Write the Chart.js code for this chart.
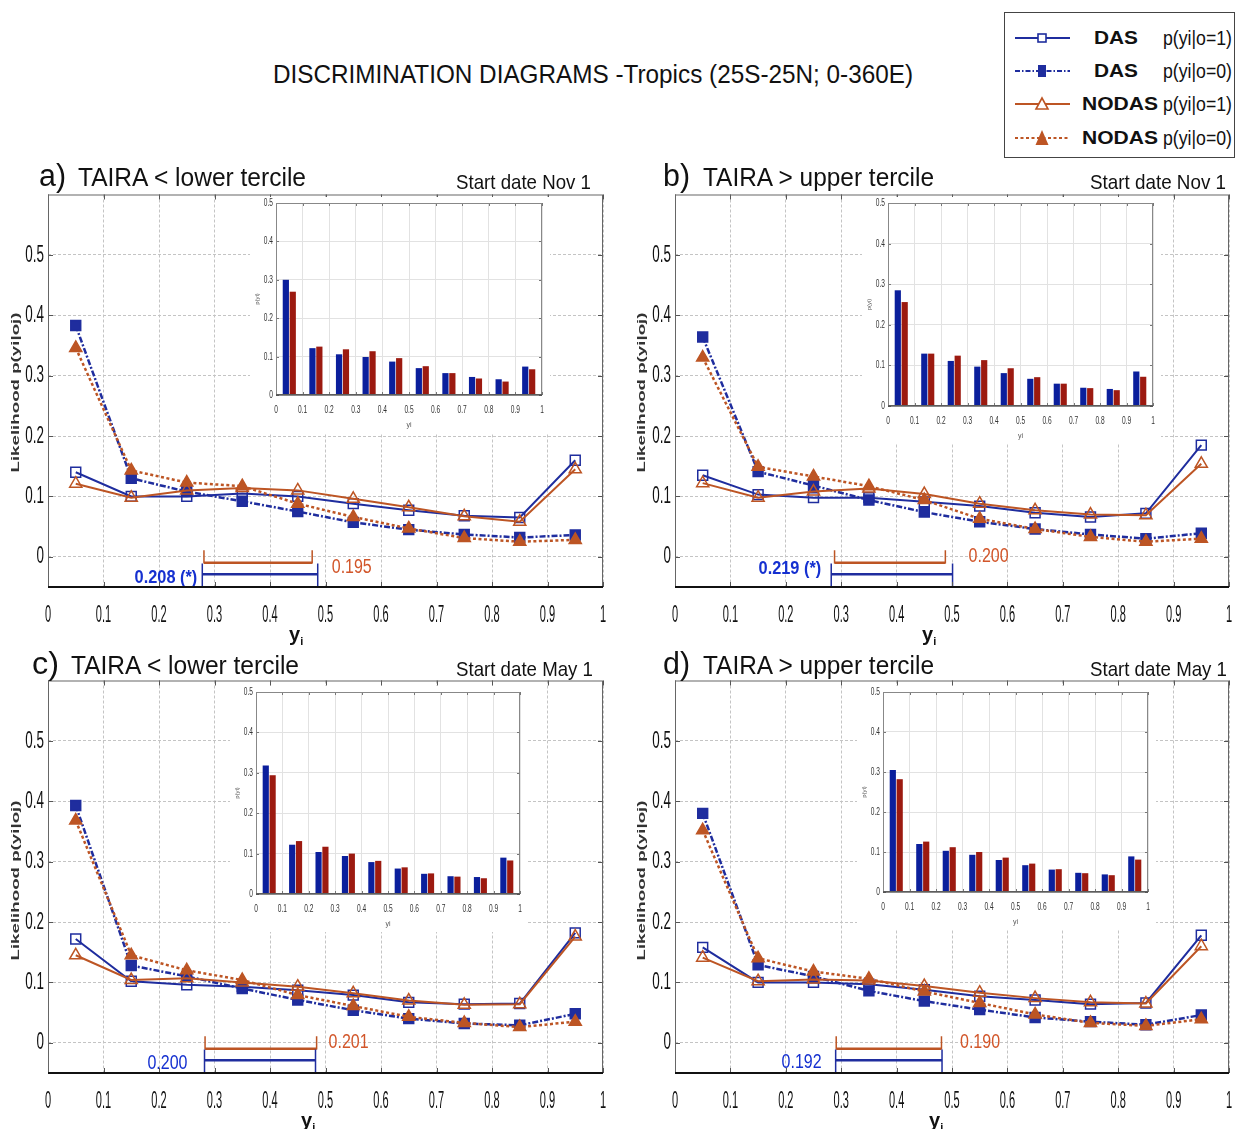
<!DOCTYPE html>
<html>
<head>
<meta charset="utf-8">
<title>Discrimination diagrams - Tropics</title>
<script src="https://cdn.jsdelivr.net/npm/chart.js@4.4.1/dist/chart.umd.min.js"></script>
<style>
  html, body { margin: 0; padding: 0; background: #fff; }
  #fig { position: relative; width: 1237px; height: 1129px; overflow: hidden; background: #fff;
         font-family: "Liberation Sans", Arial, sans-serif; color: #111; }
  #fig canvas { position: absolute; }
  .txt { position: absolute; white-space: nowrap; transform-origin: 0 50%; }
  .legend { position: absolute; left: 1004px; top: 12px; width: 231px; height: 146px;
            border: 1px solid #444; box-sizing: border-box; background: #fff; }
  .sym { position: absolute; }
</style>
</head>
<body>
<div id="fig"></div>
<script>
// --- data ---
const binCenters = [0.05, 0.15, 0.25, 0.35, 0.45, 0.55, 0.65, 0.75, 0.85, 0.95];
const xTicks = [0, 0.1, 0.2, 0.3, 0.4, 0.5, 0.6, 0.7, 0.8, 0.9, 1];
const yTicks = [0, 0.1, 0.2, 0.3, 0.4, 0.5];

const mainTitle = 'DISCRIMINATION DIAGRAMS -Tropics (25S-25N; 0-360E)';
const panelLetters = ['a)', 'b)', 'c)', 'd)'];
const panelTitles = ['TAIRA < lower tercile', 'TAIRA > upper tercile', 'TAIRA < lower tercile', 'TAIRA > upper tercile'];
const startDates = ['Start date Nov 1', 'Start date Nov 1', 'Start date May 1', 'Start date May 1'];
const legendNames = ['DAS', 'DAS', 'NODAS', 'NODAS'];
const legendConds = ['p(yi|o=1)', 'p(yi|o=0)', 'p(yi|o=1)', 'p(yi|o=0)'];
const yTitle = 'Likelihood p(yi|oj)';

// a) Nov 1, lower tercile
const aDas1   = [0.140, 0.100, 0.100, 0.105, 0.100, 0.088, 0.077, 0.068, 0.065, 0.160];
const aDas0   = [0.383, 0.130, 0.108, 0.092, 0.075, 0.057, 0.045, 0.037, 0.032, 0.036];
const aNodas1 = [0.121, 0.098, 0.110, 0.114, 0.110, 0.096, 0.082, 0.067, 0.058, 0.145];
const aNodas0 = [0.346, 0.143, 0.123, 0.117, 0.088, 0.066, 0.047, 0.031, 0.025, 0.028];
const aHistDas   = [0.300, 0.122, 0.106, 0.099, 0.087, 0.070, 0.057, 0.047, 0.041, 0.074];
const aHistNodas = [0.269, 0.126, 0.119, 0.114, 0.096, 0.075, 0.057, 0.043, 0.035, 0.067];
const aRangeDas = [0.278, 0.486], aRangeNodas = [0.281, 0.476];
const aScoreDas = '0.208 (*)', aScoreNodas = '0.195';

// b) Nov 1, upper tercile
const bDas1   = [0.135, 0.103, 0.098, 0.098, 0.091, 0.084, 0.073, 0.066, 0.072, 0.185];
const bDas0   = [0.364, 0.141, 0.118, 0.094, 0.074, 0.058, 0.046, 0.037, 0.030, 0.039];
const bNodas1 = [0.122, 0.098, 0.108, 0.113, 0.104, 0.088, 0.077, 0.070, 0.069, 0.154];
const bNodas0 = [0.330, 0.149, 0.133, 0.117, 0.094, 0.063, 0.046, 0.033, 0.025, 0.030];
const bHistDas   = [0.285, 0.129, 0.111, 0.097, 0.081, 0.067, 0.055, 0.045, 0.042, 0.085];
const bHistNodas = [0.256, 0.129, 0.124, 0.113, 0.093, 0.071, 0.055, 0.044, 0.039, 0.072];
const bRangeDas = [0.282, 0.501], bRangeNodas = [0.288, 0.488];
const bScoreDas = '0.219 (*)', bScoreNodas = '0.200';

// c) May 1, lower tercile
const cDas1   = [0.172, 0.102, 0.096, 0.093, 0.087, 0.079, 0.067, 0.064, 0.065, 0.182];
const cDas0   = [0.393, 0.128, 0.110, 0.090, 0.071, 0.054, 0.040, 0.032, 0.029, 0.048];
const cNodas1 = [0.145, 0.104, 0.107, 0.100, 0.093, 0.082, 0.070, 0.063, 0.064, 0.176];
const cNodas0 = [0.368, 0.145, 0.120, 0.104, 0.079, 0.061, 0.043, 0.033, 0.026, 0.035];
const cHistDas   = [0.318, 0.122, 0.104, 0.094, 0.079, 0.063, 0.050, 0.044, 0.042, 0.090];
const cHistNodas = [0.294, 0.131, 0.117, 0.100, 0.082, 0.066, 0.051, 0.043, 0.039, 0.083];
const cRangeDas = [0.282, 0.482], cRangeNodas = [0.283, 0.484];
const cScoreDas = '0.200', cScoreNodas = '0.201';

// d) May 1, upper tercile
const dDas1   = [0.158, 0.100, 0.100, 0.097, 0.088, 0.077, 0.071, 0.064, 0.066, 0.178];
const dDas0   = [0.380, 0.129, 0.110, 0.086, 0.069, 0.055, 0.042, 0.035, 0.030, 0.046];
const dNodas1 = [0.141, 0.102, 0.105, 0.103, 0.094, 0.083, 0.074, 0.067, 0.065, 0.160];
const dNodas0 = [0.352, 0.140, 0.118, 0.106, 0.085, 0.066, 0.047, 0.033, 0.028, 0.039];
const dHistDas   = [0.305, 0.120, 0.103, 0.093, 0.080, 0.067, 0.056, 0.048, 0.044, 0.089];
const dHistNodas = [0.282, 0.126, 0.112, 0.100, 0.086, 0.071, 0.057, 0.047, 0.042, 0.081];
const dRangeDas = [0.290, 0.482], dRangeNodas = [0.291, 0.481];
const dScoreDas = '0.192', dScoreNodas = '0.190';

const panels = [
  { das1: aDas1, das0: aDas0, nodas1: aNodas1, nodas0: aNodas0, hDas: aHistDas, hNodas: aHistNodas,
    rDas: aRangeDas, rNodas: aRangeNodas, sDas: aScoreDas, sNodas: aScoreNodas },
  { das1: bDas1, das0: bDas0, nodas1: bNodas1, nodas0: bNodas0, hDas: bHistDas, hNodas: bHistNodas,
    rDas: bRangeDas, rNodas: bRangeNodas, sDas: bScoreDas, sNodas: bScoreNodas },
  { das1: cDas1, das0: cDas0, nodas1: cNodas1, nodas0: cNodas0, hDas: cHistDas, hNodas: cHistNodas,
    rDas: cRangeDas, rNodas: cRangeNodas, sDas: cScoreDas, sNodas: cScoreNodas },
  { das1: dDas1, das0: dDas0, nodas1: dNodas1, nodas0: dNodas0, hDas: dHistDas, hNodas: dHistNodas,
    rDas: dRangeDas, rNodas: dRangeNodas, sDas: dScoreDas, sNodas: dScoreNodas }
];

// --- layout (pixels) ---
const mainRects = [
  { l: 48, t: 194, r: 603, b: 587 }, { l: 675, t: 194, r: 1229, b: 587 },
  { l: 48, t: 680, r: 603, b: 1073 }, { l: 675, t: 680, r: 1229, b: 1073 }
];
const insetRects = [
  { l: 276, t: 203, r: 542, b: 395 }, { l: 888, t: 203, r: 1153, b: 406 },
  { l: 256, t: 692, r: 520, b: 894 }, { l: 883, t: 692, r: 1148, b: 892 }
];
const heads = [
  { lx: 39, tx: 78, tw: 228, sx: 456, sw: 135, cy: 175, scy: 181 },
  { lx: 663, tx: 703, tw: 231, sx: 1090, sw: 136, cy: 175, scy: 181 },
  { lx: 32, tx: 71, tw: 228, sx: 456, sw: 137, cy: 663, scy: 668 },
  { lx: 663, tx: 703, tw: 231, sx: 1090, sw: 137, cy: 663, scy: 668 }
];
const yiPos = [{ x: 289, cy: 634 }, { x: 922, cy: 634 }, { x: 301, cy: 1120 }, { x: 929, cy: 1120 }];
const yTitlePos = [{ x: 15, y: 392 }, { x: 641, y: 392 }, { x: 15, y: 880 }, { x: 641, y: 880 }];
// score label placement: y in data units, gap in px from the bracket end
const scoreLayout = [
  { dasY: -0.035, nodasY: -0.017, dasGap: 5, nodasGap: 18, dasBold: true },
  { dasY: -0.020, nodasY: 0.000, dasGap: 10, nodasGap: 20, dasBold: true },
  { dasY: -0.035, nodasY: 0.000, dasGap: 17, nodasGap: 16, dasBold: false },
  { dasY: -0.033, nodasY: 0.000, dasGap: 14, nodasGap: 22, dasBold: false }
];

const DAS_BLUE = '#1f2d9e';
const NODAS_ORANGE = '#bd5524';
const BAR_BLUE = '#0b1f9c';
const BAR_RED = '#9c1a10';
const LBL_BLUE = '#1530d0';
const LBL_ORANGE = '#d2562a';

const fig = document.getElementById('fig');

function pts(vals) { return binCenters.map((x, k) => ({ x: x, y: vals[k] })); }
function fmt(v) { return String(Math.round(v * 10) / 10); }

function addCanvas(left, top, w, h) {
  const c = document.createElement('canvas');
  c.width = w; c.height = h;
  c.style.left = left + 'px'; c.style.top = top + 'px';
  c.style.width = w + 'px'; c.style.height = h + 'px';
  fig.appendChild(c);
  return c;
}

function addText(str, x, cy, o) {
  const el = document.createElement('div');
  el.className = 'txt';
  el.textContent = str;
  el.style.fontSize = o.size + 'px';
  el.style.lineHeight = o.size + 'px';
  el.style.fontWeight = o.bold ? 'bold' : 'normal';
  if (o.family) el.style.fontFamily = o.family;
  if (o.color) el.style.color = o.color;
  el.style.left = x + 'px';
  el.style.top = (cy - o.size / 2) + 'px';
  fig.appendChild(el);
  if (o.w) {
    const w = el.getBoundingClientRect().width;
    el.style.transform = 'scaleX(' + (o.w / w) + ')';
  }
  return el;
}

function addVText(str, cx, cy, len, ky, size) {
  const el = document.createElement('div');
  el.className = 'txt';
  el.textContent = str;
  el.style.fontSize = size + 'px';
  el.style.lineHeight = size + 'px';
  el.style.fontWeight = 'bold';
  el.style.color = '#333';
  fig.appendChild(el);
  const r = el.getBoundingClientRect();
  el.style.left = (cx - r.width / 2) + 'px';
  el.style.top = (cy - r.height / 2) + 'px';
  el.style.transformOrigin = '50% 50%';
  el.style.transform = 'rotate(-90deg) scale(' + (len / r.width) + ',' + ky + ')';
}

function squashText(ctx, s, x, y, k, align) {
  ctx.save();
  ctx.translate(x, y);
  ctx.scale(k, 1);
  ctx.textAlign = align;
  ctx.fillText(s, 0, 0);
  ctx.restore();
}

// --- plugins ---
const whiteBg = {
  id: 'whiteBg',
  beforeDraw(chart) {
    const c = chart.ctx;
    c.save(); c.fillStyle = '#fff'; c.fillRect(0, 0, chart.width, chart.height); c.restore();
  }
};

// MATLAB-like box with inward ticks
const frame = {
  id: 'frame',
  afterDraw(chart, args, o) {
    const { ctx, chartArea: a, scales: { x, y } } = chart;
    ctx.save();
    ctx.lineWidth = 1;
    ctx.strokeStyle = o.tickColor;
    ctx.beginPath();
    x.ticks.forEach(t => {
      const p = Math.round(x.getPixelForValue(t.value)) + 0.5;
      ctx.moveTo(p, a.bottom); ctx.lineTo(p, a.bottom - o.tick);
      ctx.moveTo(p, a.top); ctx.lineTo(p, a.top + o.tick);
    });
    y.ticks.forEach(t => {
      const p = Math.round(y.getPixelForValue(t.value)) + 0.5;
      ctx.moveTo(a.left, p); ctx.lineTo(a.left + o.tick, p);
      ctx.moveTo(a.right, p); ctx.lineTo(a.right - o.tick, p);
    });
    ctx.stroke();
    ctx.strokeStyle = o.color;
    ctx.strokeRect(a.left + 0.5, a.top + 0.5, a.right - a.left - 1, a.bottom - a.top - 1);
    ctx.lineWidth = o.bottomWidth;
    ctx.strokeStyle = o.bottomColor;
    ctx.beginPath();
    ctx.moveTo(a.left, a.bottom); ctx.lineTo(a.right, a.bottom);
    ctx.stroke();
    ctx.restore();
  }
};

// tick labels squeezed horizontally like the exported figure
const squashTicks = {
  id: 'squashTicks',
  afterDraw(chart, args, o) {
    const { ctx, chartArea: a, scales: { x, y } } = chart;
    ctx.save();
    ctx.fillStyle = o.color;
    ctx.font = o.font;
    ctx.textBaseline = 'middle';
    x.ticks.forEach(t => squashText(ctx, fmt(t.value), x.getPixelForValue(t.value), a.bottom + o.xGap, o.sx, 'center'));
    y.ticks.forEach(t => squashText(ctx, fmt(t.value), a.left - o.yGap, y.getPixelForValue(t.value), o.sy, 'right'));
    ctx.restore();
  }
};

// score brackets under the zero line
const brackets = {
  id: 'brackets',
  afterDatasetsDraw(chart, args, o) {
    const { ctx, scales: { x, y } } = chart;
    const X = v => x.getPixelForValue(v), Y = v => y.getPixelForValue(v);
    ctx.save();
    // NODAS
    ctx.strokeStyle = NODAS_ORANGE;
    ctx.lineWidth = 1.5;
    ctx.beginPath();
    o.rNodas.forEach(v => { ctx.moveTo(X(v), Y(0.011)); ctx.lineTo(X(v), Y(-0.011)); });
    ctx.stroke();
    ctx.lineWidth = 2.5;
    ctx.beginPath(); ctx.moveTo(X(o.rNodas[0]), Y(-0.01)); ctx.lineTo(X(o.rNodas[1]), Y(-0.01)); ctx.stroke();
    // DAS
    ctx.strokeStyle = DAS_BLUE;
    ctx.lineWidth = 1.5;
    ctx.beginPath();
    o.rDas.forEach(v => { ctx.moveTo(X(v), Y(-0.011)); ctx.lineTo(X(v), Y(-0.05)); });
    ctx.stroke();
    ctx.lineWidth = 2.5;
    ctx.beginPath(); ctx.moveTo(X(o.rDas[0]), Y(-0.029)); ctx.lineTo(X(o.rDas[1]), Y(-0.029)); ctx.stroke();
    // labels
    ctx.textBaseline = 'middle';
    ctx.fillStyle = LBL_BLUE;
    ctx.font = (o.lay.dasBold ? 'bold 19px' : '20px') + ' "Liberation Sans", Arial, sans-serif';
    squashText(ctx, o.sDas, X(o.rDas[0]) - o.lay.dasGap, Y(o.lay.dasY), o.lay.dasBold ? 0.86 : 0.8, 'right');
    ctx.fillStyle = LBL_ORANGE;
    ctx.font = '20px "Liberation Sans", Arial, sans-serif';
    squashText(ctx, o.sNodas, Math.max(X(o.rNodas[1]), X(o.rDas[1])) + o.lay.nodasGap - 4, Y(o.lay.nodasY), 0.8, 'left');
    ctx.restore();
  }
};

function lineDs(vals, color, style, filled, dash, width, radius) {
  return {
    data: pts(vals),
    borderColor: color,
    borderWidth: width,
    borderDash: dash,
    tension: 0,
    fill: false,
    pointStyle: style,
    pointRadius: radius,
    pointBorderColor: color,
    pointBorderWidth: 1.5,
    pointBackgroundColor: filled ? color : 'rgba(255,255,255,0)'
  };
}

const PADL = 48, PADT = 8, PADR = 20, PADB = 60;

function mainChart(i) {
  const r = mainRects[i], p = panels[i];
  const c = addCanvas(r.l - PADL, r.t - PADT, r.r - r.l + PADL + PADR, r.b - r.t + PADT + PADB);
  new Chart(c, {
    type: 'line',
    data: {
      datasets: [
        lineDs(p.nodas1, NODAS_ORANGE, 'triangle', false, [], 2, 7),
        lineDs(p.nodas0, NODAS_ORANGE, 'triangle', true, [3, 2.5], 2.5, 7),
        lineDs(p.das1, DAS_BLUE, 'rect', false, [], 2, 7),
        lineDs(p.das0, DAS_BLUE, 'rect', true, [6, 2, 2, 2], 2.5, 7)
      ]
    },
    options: {
      responsive: false,
      animation: false,
      layout: { padding: { top: PADT, right: PADR, left: 0, bottom: 0 } },
      plugins: {
        legend: { display: false },
        tooltip: { enabled: false },
        frame: { color: '#666', tickColor: '#555', tick: 5, bottomWidth: 2, bottomColor: '#111' },
        squashTicks: { font: '24px "Liberation Sans", Arial, sans-serif', color: '#111', xGap: 28, yGap: 4, sx: 0.46, sy: 0.56 },
        brackets: { rDas: p.rDas, rNodas: p.rNodas, sDas: p.sDas, sNodas: p.sNodas, lay: scoreLayout[i] }
      },
      scales: {
        x: {
          type: 'linear', min: 0, max: 1,
          afterBuildTicks: s => { s.ticks = xTicks.map(v => ({ value: v })); },
          afterFit: s => { s.height = PADB; },
          ticks: { display: false },
          grid: { color: '#c4c4c4', lineWidth: 1, drawTicks: false },
          border: { display: false, dash: [3, 2] }
        },
        y: {
          type: 'linear', min: -0.05, max: 0.6,
          afterBuildTicks: s => { s.ticks = yTicks.map(v => ({ value: v })); },
          afterFit: s => { s.width = PADL; },
          ticks: { display: false },
          grid: { color: '#c4c4c4', lineWidth: 1, drawTicks: false },
          border: { display: false, dash: [3, 2] }
        }
      }
    },
    plugins: [frame, brackets, squashTicks]
  });
}

const IL = 26, IT = 6, IR = 8, IB = 38;

function insetChart(i) {
  const r = insetRects[i], p = panels[i];
  const c = addCanvas(r.l - IL, r.t - IT, r.r - r.l + IL + IR, r.b - r.t + IT + IB);
  new Chart(c, {
    type: 'bar',
    data: {
      datasets: [
        { data: pts(p.hDas), backgroundColor: BAR_BLUE, borderWidth: 0, categoryPercentage: 0.52, barPercentage: 0.9 },
        { data: pts(p.hNodas), backgroundColor: BAR_RED, borderWidth: 0, categoryPercentage: 0.52, barPercentage: 0.9 }
      ]
    },
    options: {
      responsive: false,
      animation: false,
      layout: { padding: { top: IT, right: IR, left: 0, bottom: 0 } },
      plugins: {
        legend: { display: false },
        tooltip: { enabled: false },
        frame: { color: '#888', tickColor: '#777', tick: 3, bottomWidth: 1, bottomColor: '#333' },
        squashTicks: { font: '11px "Liberation Sans", Arial, sans-serif', color: '#333', xGap: 15, yGap: 3, sx: 0.6, sy: 0.6 }
      },
      scales: {
        x: {
          type: 'linear', min: 0, max: 1, offset: false,
          afterBuildTicks: s => { s.ticks = xTicks.map(v => ({ value: v })); },
          afterFit: s => { s.height = IB; },
          ticks: { display: false },
          grid: { color: '#e2e2e2', lineWidth: 1, drawTicks: false, offset: false },
          border: { display: false },
          title: { display: true, text: 'yi', font: { size: 7 }, color: '#555', padding: { top: 0, bottom: 4 } }
        },
        y: {
          type: 'linear', min: 0, max: 0.5,
          afterBuildTicks: s => { s.ticks = yTicks.map(v => ({ value: v })); },
          afterFit: s => { s.width = IL; },
          ticks: { display: false },
          grid: { color: '#e2e2e2', lineWidth: 1, drawTicks: false },
          border: { display: false },
          title: { display: true, text: 'p(yi)', font: { size: 6 }, color: '#555', padding: { top: 4, bottom: 0 } }
        }
      }
    },
    plugins: [whiteBg, frame, squashTicks]
  });
}

for (let i = 0; i < 4; i++) {
  mainChart(i);
  insetChart(i);
}

// --- texts ---
addText(mainTitle, 273, 74, { size: 25, w: 640 });
for (let i = 0; i < 4; i++) {
  const h = heads[i];
  addText(panelLetters[i], h.lx, h.cy, { size: 31, w: 27 });
  addText(panelTitles[i], h.tx, h.cy + 2, { size: 26, w: h.tw });
  addText(startDates[i], h.sx, h.scy, { size: 21, w: h.sw });
  const yi = addText('y', yiPos[i].x, yiPos[i].cy, { size: 20, bold: true });
  const sub = document.createElement('span');
  sub.textContent = 'i';
  sub.style.fontSize = '11px';
  sub.style.verticalAlign = '-4px';
  yi.appendChild(sub);
  addVText(yTitle, yTitlePos[i].x, yTitlePos[i].y, 160, 0.62, 19);
}

// --- legend ---
const lg = document.createElement('div');
lg.className = 'legend';
fig.appendChild(lg);
const legendRowsY = [38, 71, 104, 138];
const legendSym = [
  { color: DAS_BLUE, dash: '', mark: '<rect x="25" y="6" width="8" height="8" fill="#fff" stroke="' + DAS_BLUE + '" stroke-width="1.6"/>' },
  { color: DAS_BLUE, dash: '5 2 1.5 2', mark: '<rect x="25" y="4" width="8" height="12" fill="' + DAS_BLUE + '"/>' },
  { color: NODAS_ORANGE, dash: '', mark: '<polygon points="29,4 23,15 35,15" fill="#fff" stroke="' + NODAS_ORANGE + '" stroke-width="1.6"/>' },
  { color: NODAS_ORANGE, dash: '3 2.5', mark: '<polygon points="29,2 22.5,17 35.5,17" fill="' + NODAS_ORANGE + '"/>' }
];
for (let k = 0; k < 4; k++) {
  const cy = legendRowsY[k];
  const s = document.createElement('div');
  s.className = 'sym';
  s.style.left = '1013px';
  s.style.top = (cy - 10) + 'px';
  s.innerHTML = '<svg width="60" height="20" xmlns="http://www.w3.org/2000/svg">' +
    '<line x1="2" y1="10" x2="57" y2="10" stroke="' + legendSym[k].color + '" stroke-width="2"' +
    (legendSym[k].dash ? ' stroke-dasharray="' + legendSym[k].dash + '"' : '') + '/>' +
    legendSym[k].mark + '</svg>';
  fig.appendChild(s);
  const isDas = legendNames[k] === 'DAS';
  addText(legendNames[k], isDas ? 1094 : 1082, cy, { size: 18, bold: true, w: isDas ? 44 : 76 });
  addText(legendConds[k], 1163, cy, { size: 20, w: 69 });
}
</script>
</body>
</html>
